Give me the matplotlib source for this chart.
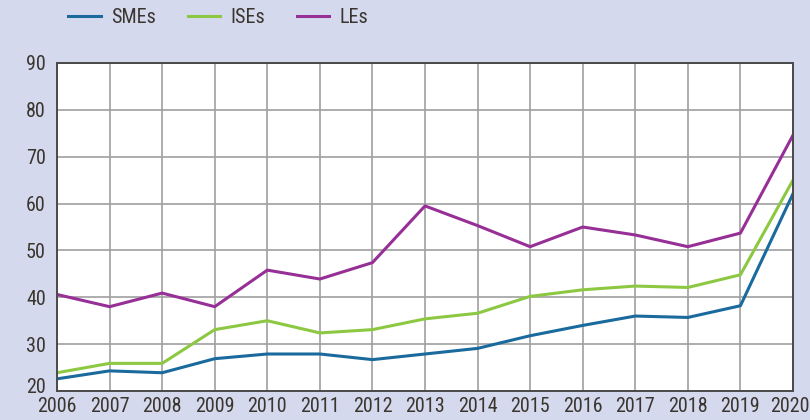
import matplotlib.pyplot as plt
import matplotlib.transforms as mtransforms
from matplotlib import font_manager

years = list(range(2006, 2021))
smes = [22.6, 24.3, 23.9, 26.9, 27.9, 27.9, 26.7, 27.9, 29.1, 31.8, 34.0, 36.0, 35.7, 38.2, 62.1]
ises = [23.9, 25.9, 25.9, 33.1, 35.0, 32.4, 33.1, 35.4, 36.6, 40.2, 41.6, 42.4, 42.1, 44.8, 65.0]
les = [40.6, 38.0, 40.9, 38.0, 45.8, 43.9, 47.4, 59.5, 55.3, 50.8, 55.0, 53.3, 50.8, 53.7, 74.6]

bg = "#d5d9ed"
txt = "#3b3530"

# condensed font, like the original
names = {f.name for f in font_manager.fontManager.ttflist}
family = "Roboto Condensed" if "Roboto Condensed" in names else "DejaVu Sans"
plt.rcParams["font.family"] = [family, "DejaVu Sans"]
plt.rcParams["font.stretch"] = "condensed"

fig = plt.figure(figsize=(8.1, 4.2), dpi=100, facecolor=bg)
ax = fig.add_axes([0.0704, 0.069, 0.9086, 0.781])

ax.plot(years, smes, color="#1a6a9e", lw=2.2, label="SMEs")
ax.plot(years, ises, color="#8cc841", lw=2.2, label="ISEs")
ax.plot(years, les, color="#962f96", lw=2.2, label="LEs")

ax.set_xlim(2006, 2020)
ax.set_ylim(20, 90)
ax.set_xticks(years)
ax.set_yticks(range(20, 91, 10))
ax.grid(True, color="#a0a0a0", lw=1.2)
ax.set_axisbelow(True)
for s in ax.spines.values():
    s.set_color("#4a4a4a")
    s.set_linewidth(1.4)
ax.tick_params(length=0, labelsize=14.5, colors=txt)
ax.tick_params(axis="y", pad=8)
ax.tick_params(axis="x", pad=4)

# nudge the corner labels apart and keep 2020 inside the picture
last = ax.get_xticklabels()[-1]
last.set_transform(last.get_transform() + mtransforms.ScaledTranslation(-3 / 100, 0, fig.dpi_scale_trans))
first = ax.get_yticklabels()[0]
first.set_transform(first.get_transform() + mtransforms.ScaledTranslation(0, 6 / 100, fig.dpi_scale_trans))

fig.legend(loc="center left", bbox_to_anchor=(0.062, 0.958), ncol=3, frameon=False,
           handlelength=1.6, handletextpad=0.5, columnspacing=1.6,
           prop={"size": 14.5, "stretch": "condensed"}, labelcolor=txt)

fig.savefig("out.png", dpi=100, facecolor=bg)
